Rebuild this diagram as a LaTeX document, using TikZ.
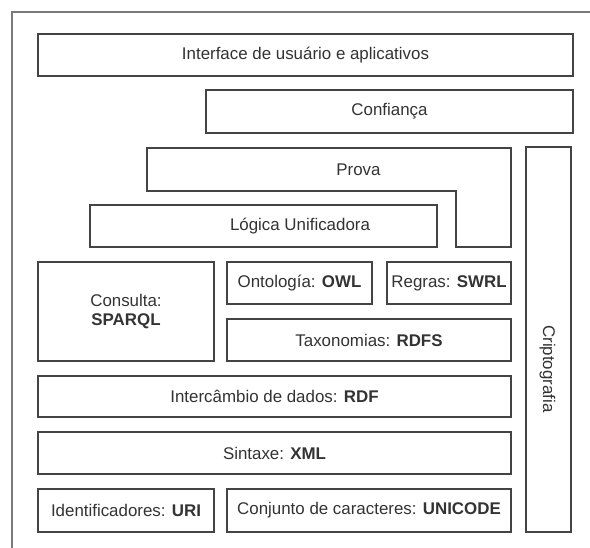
\documentclass[tikz,border=0pt]{standalone}
\usepackage{fontspec}
\setmainfont{Liberation Sans}
\definecolor{ink}{HTML}{333333}
\definecolor{edge}{HTML}{444444}
\definecolor{framegray}{HTML}{7A7A7A}
\begin{document}
\begin{tikzpicture}[x=1pt,y=-1pt,
  layer/.style={draw=edge,line width=1.1pt,text=ink,inner sep=0pt,
    font=\fontsize{16.9}{19}\selectfont,align=center},
  lbl/.style={text=ink,inner sep=0pt,font=\fontsize{16.9}{19}\selectfont}]
\useasboundingbox (0,0) rectangle (590,548);
\fill[white] (0,0) rectangle (590,548);
% open outer frame
\draw[framegray,line width=1.4pt] (12,548) -- (12,12) -- (590,12);

% upper layers
\node[layer,minimum width=535,minimum height=42] (iface) at (305.5,55)
  {Interface de usuário e aplicativos};
\node[layer,minimum width=367,minimum height=43] (conf) at (389.5,111.5)
  {Confiança};
\draw[draw=edge,line width=1.1pt] (147,148) -- (511,148) -- (511,247)
  -- (456,247) -- (456,191) -- (147,191) -- cycle;
\node[lbl] (prova) at (358.5,170) {Prova};
\node[layer,minimum width=347,minimum height=42] (logica) at (263.5,226) {};
\node[lbl] (logicatxt) at (300,226) {Lógica Unificadora};

% side column
\node[layer,minimum width=45,minimum height=385] (cripto) at (548.5,339.5) {};
\node[lbl,rotate=-90] (criptotxt) at (547.5,369) {Criptografia};

% middle layers
\node[layer,minimum width=176,minimum height=99] (consulta) at (126,311.5)
  {Consulta:\\\textbf{SPARQL}};
\node[layer,minimum width=145,minimum height=42] (onto) at (299.5,283)
  {Ontología: \textbf{OWL}};
\node[layer,minimum width=124,minimum height=42] (regras) at (449,283)
  {Regras: \textbf{SWRL}};
\node[layer,minimum width=284,minimum height=42] (taxo) at (369,340)
  {Taxonomias: \textbf{RDFS}};
\node[layer,minimum width=473,minimum height=41] (inter) at (274.5,396.5)
  {Intercâmbio de dados: \textbf{RDF}};
\node[layer,minimum width=473,minimum height=42] (sintaxe) at (274.5,453)
  {Sintaxe: \textbf{XML}};

% base layers
\node[layer,minimum width=176,minimum height=43] (ident) at (126,510.5)
  {Identificadores: \textbf{URI}};
\node[layer,minimum width=284,minimum height=43] (conj) at (369,510.5)
  {Conjunto de caracteres: \textbf{UNICODE}};
\end{tikzpicture}
\end{document}
